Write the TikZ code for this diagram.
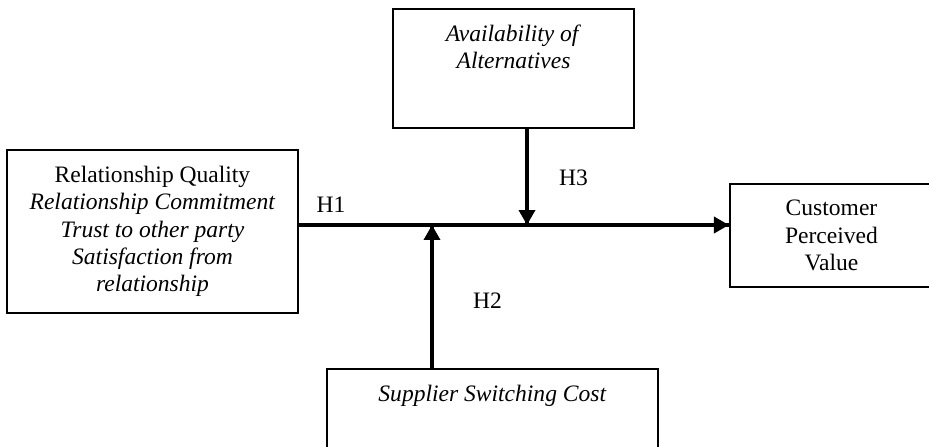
\documentclass[tikz,border=0pt]{standalone}
\usepackage{fontspec}
\setmainfont{Liberation Serif}
\usetikzlibrary{arrows.meta}
\usetikzlibrary{decorations.markings}
\tikzset{box/.style = {draw, line width=1.2pt, align=center, inner sep=0pt},
         boxtext/.style = {anchor=north, align=center},
         hyp/.style = {anchor=base},
         flow/.style = {line width=2pt,
                        decoration={markings,
                                    mark=at position 1 with {\arrow{Triangle[length=0.3cm, width=0.32cm]}}},
                        postaction={decorate}}}

\begin{document}
\begin{tikzpicture}[x=0.02cm, y=-0.02cm, font=\fontsize{13.4}{15.5}\selectfont]
      \clip (0,0) rectangle (929,446);
      \node [box, minimum width=5.82cm, minimum height=3.26cm] (rq) at (152.5,231.5)
            {Relationship Quality\\ \textit{Relationship Commitment}\\ \textit{Trust to other party}\\ \textit{Satisfaction from}\\ \textit{relationship}};
      \node [box, minimum width=4.82cm, minimum height=2.38cm] (avail) at (513.5,68.5) {};
      \node [boxtext] (availtxt) at ([yshift=-0.22cm]avail.north) {\textit{Availability of}\\ \textit{Alternatives}};
      \node [box, minimum width=4.06cm, minimum height=2.06cm] (cpv) at (831.5,235.5) {Customer\\ Perceived\\ Value};
      \node [box, minimum width=6.62cm, minimum height=1.9cm] (ssc) at (492.5,416.5) {};
      \node [boxtext] (ssctxt) at ([yshift=-0.22cm]ssc.north) {\textit{Supplier Switching Cost}};
      \coordinate (h) at (0,225);
      \coordinate (j3) at (527,225);
      \coordinate (j2) at (432,225);
      \draw [flow] (rq.east |- h) -- (cpv.west |- h);
      \draw [flow] (avail.south -| j3) -- (j3);
      \draw [flow] (ssc.north -| j2) -- (j2);
      \node [hyp] (h1) at (331,212) {H1};
      \node [hyp] (h3) at (573.5,185) {H3};
      \node [hyp] (h2) at (487.5,308) {H2};
\end{tikzpicture}
\end{document}
